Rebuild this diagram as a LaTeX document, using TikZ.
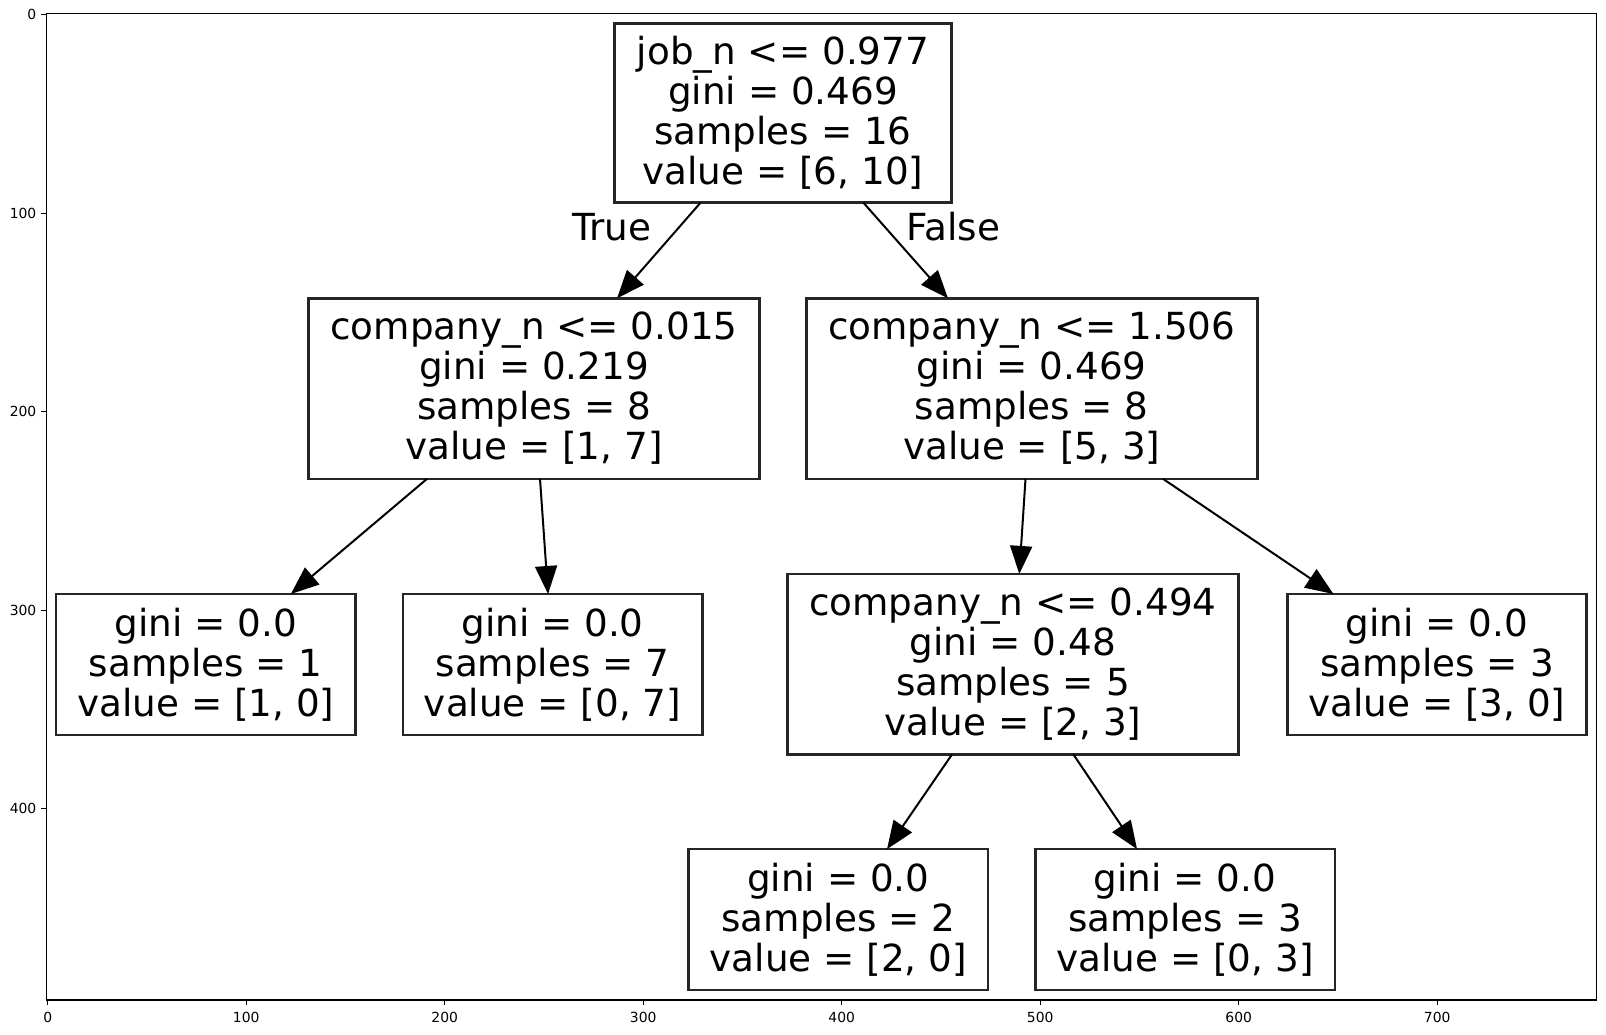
\documentclass[tikz,border=0pt]{standalone}
\usepackage{fontspec}
\setmainfont{DejaVu Sans}
\usetikzlibrary{arrows.meta,calc}
\begin{document}
\begin{tikzpicture}[x=1pt,y=-1pt,
  treenode/.style={draw=black!85, line width=2.6pt, fill=white, inner sep=0pt, outer sep=0pt,
    align=center, font=\fontsize{37.3}{40}\selectfont},
  bigbox/.style={treenode, minimum width=451pt, minimum height=180.5pt},
  leafbox/.style={treenode, minimum width=299.5pt, minimum height=141pt},
  edge/.style={line width=2pt, -{Triangle[length=28pt,width=22pt]}},
  edgelabel/.style={font=\fontsize{37.3}{40}\selectfont, inner sep=0pt, anchor=base},
  ticklabel/.style={font=\fontsize{13.9}{16}\selectfont, inner sep=0pt},
  axisline/.style={line width=1.1pt, black}]
\useasboundingbox[fill=white] (0,0) rectangle (1606,1034);

% axes frame
\draw[axisline] (46.3,13.9) rectangle (1596.7,1000);
% y ticks
\foreach \v [count=\i] in {0,100,200,300,400} {
  \coordinate (yt\i) at (46.3,{14.7+1.985*\v});
  \draw[axisline] (yt\i) -- ++(-4.9,0);
  \node[ticklabel, anchor=east] (ylab\i) at ($(yt\i)+(-9.8,0)$) {\v};
}
% x ticks
\foreach \v [count=\i] in {0,100,200,300,400,500,600,700} {
  \coordinate (xt\i) at ({47.7+1.985*\v},1000);
  \draw[axisline] (xt\i) -- ++(0,4.9);
  \node[ticklabel, anchor=north] (xlab\i) at ($(xt\i)+(0,12)$) {\v};
}

% tree nodes
\node[treenode, minimum width=337.4pt, minimum height=179.4pt] (root) at (783,113)
  {job\_n <= 0.977\\gini = 0.469\\samples = 16\\value = [6, 10]};
\node[bigbox] (l2a) at (534,388.6)
  {company\_n <= 0.015\\gini = 0.219\\samples = 8\\value = [1, 7]};
\node[bigbox] (l2b) at (1031.75,388.6)
  {company\_n <= 1.506\\gini = 0.469\\samples = 8\\value = [5, 3]};
\node[leafbox] (l3a) at (205.85,664.5)
  {gini = 0.0\\samples = 1\\value = [1, 0]};
\node[leafbox] (l3b) at (552.55,664.5)
  {gini = 0.0\\samples = 7\\value = [0, 7]};
\node[bigbox] (l3c) at (1012.9,664.15)
  {company\_n <= 0.494\\gini = 0.48\\samples = 5\\value = [2, 3]};
\node[leafbox] (l3d) at (1436.95,664.5)
  {gini = 0.0\\samples = 3\\value = [3, 0]};
\node[leafbox] (l4a) at (838.35,919.65)
  {gini = 0.0\\samples = 2\\value = [2, 0]};
\node[leafbox] (l4b) at (1185.05,919.65)
  {gini = 0.0\\samples = 3\\value = [0, 3]};

% edges
\draw[edge] ([xshift=-82.5pt]root.south) -- ([xshift=83pt]l2a.north);
\draw[edge] ([xshift=80.4pt]root.south) -- ([xshift=-83.75pt]l2b.north);
\draw[edge] ([xshift=-107pt]l2a.south) -- ([xshift=85pt]l3a.north);
\draw[edge] ([xshift=6pt]l2a.south) -- ([xshift=-4.5pt]l3b.north);
\draw[edge] ([xshift=-6.25pt]l2b.south) -- ([xshift=6.4pt]l3c.north);
\draw[edge] ([xshift=131.25pt]l2b.south) -- ([xshift=-103.5pt]l3d.north);
\draw[edge] ([xshift=-60.9pt]l3c.south) -- ([xshift=48.65pt]l4a.north);
\draw[edge] ([xshift=60.5pt]l3c.south) -- ([xshift=-48pt]l4b.north);

% edge labels
\node[edgelabel] (lbltrue) at (611.7,240) {True};
\node[edgelabel] (lblfalse) at (953.5,240) {False};
\end{tikzpicture}
\end{document}
